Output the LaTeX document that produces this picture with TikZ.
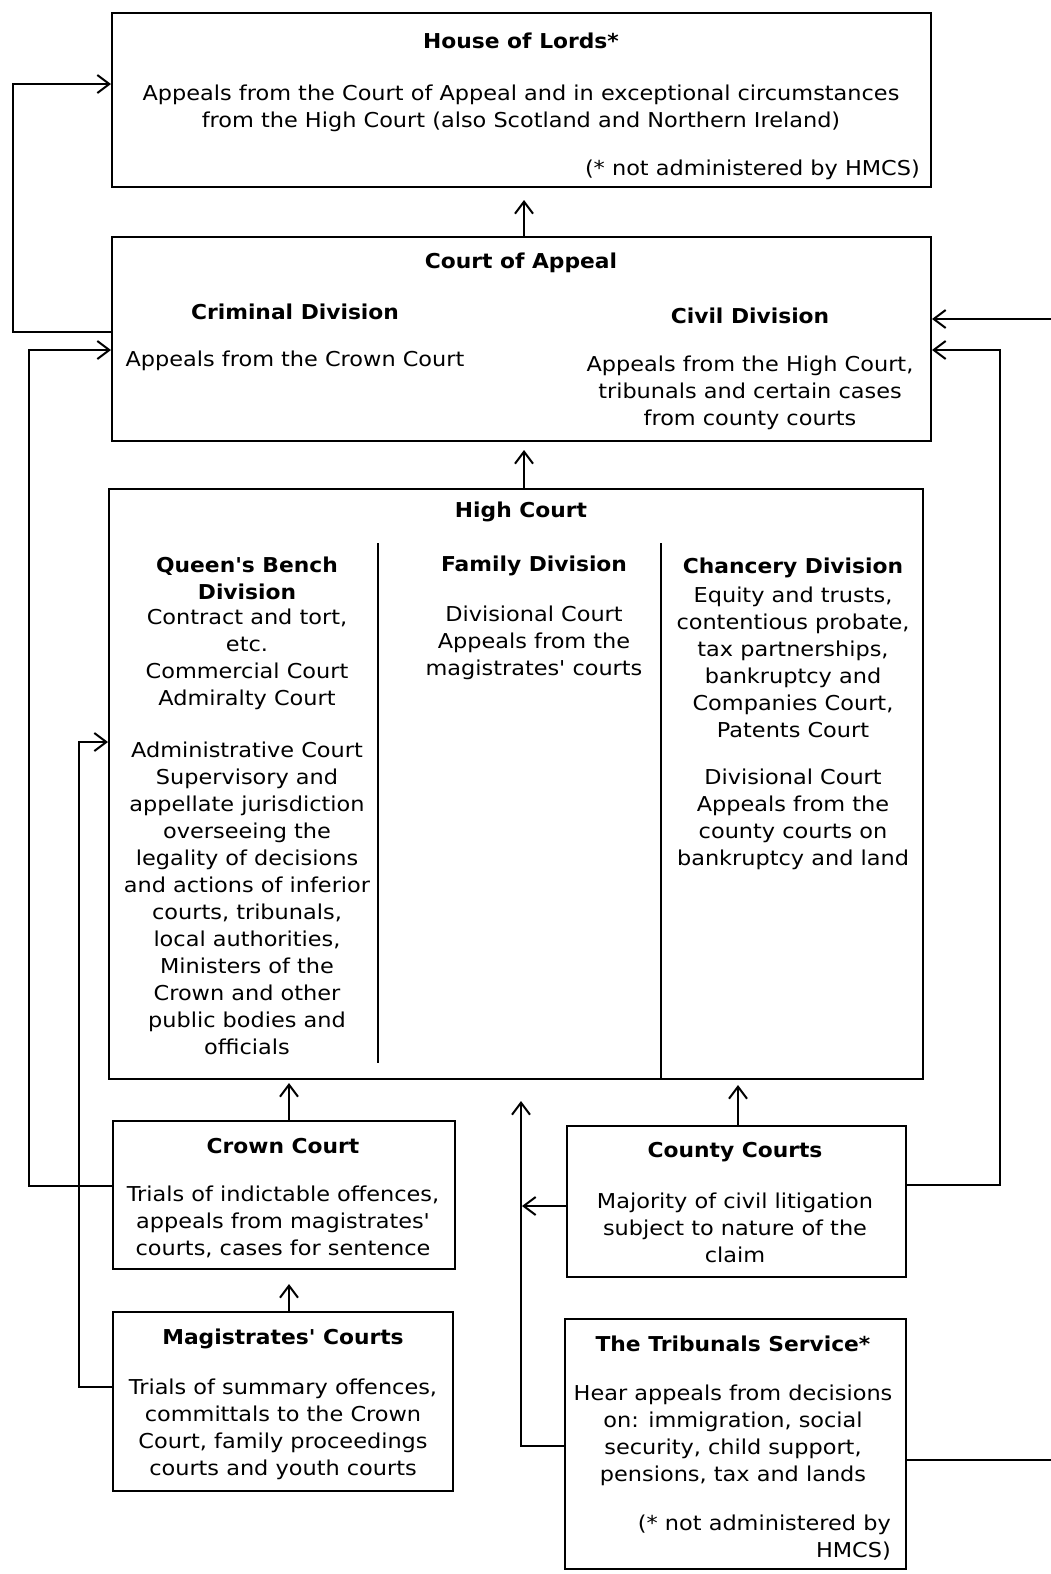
\documentclass[tikz,border=0pt]{standalone}
\usepackage{fontspec}
\setmainfont{DejaVu Sans}[Ligatures=TeXOff, FakeStretch=1.093, BoldFeatures={FakeStretch=1.063}]
\usetikzlibrary{arrows.meta}
\begin{document}
\begin{tikzpicture}[x=1pt,y=-1pt,
  box/.style={draw, line width=2pt, anchor=north west, inner sep=0pt},
  txt/.style={align=center, inner sep=0pt, yshift=-3pt, font=\fontsize{20.5}{27}\selectfont},
  hd/.style={align=center, inner sep=0pt, yshift=-3pt, font=\fontsize{20.5}{27}\selectfont\bfseries},
  note/.style={align=right, anchor=east, inner sep=0pt, yshift=-3pt, font=\fontsize{20.5}{27}\selectfont},
  conn/.style={line width=2pt},
  arr/.style={line width=2pt, -{Straight Barb[length=12pt,width=18pt]}}
]
\useasboundingbox (0,0) rectangle (1051,1574);

% boxes
\node[box, minimum width=819pt, minimum height=174pt] (hol) at (111,12) {};
\node[box, minimum width=819pt, minimum height=204pt] (coa) at (111,236) {};
\node[box, minimum width=814pt, minimum height=590pt] (hc) at (108,488) {};
\node[box, minimum width=342pt, minimum height=148pt] (crown) at (112,1120) {};
\node[box, minimum width=339pt, minimum height=151pt] (county) at (566,1125) {};
\node[box, minimum width=340pt, minimum height=179pt] (mag) at (112,1311) {};
\node[box, minimum width=341pt, minimum height=250pt] (trib) at (564,1318) {};

% dividers in High Court
\coordinate (d1t) at (378,543);
\coordinate (d2t) at (661,543);
\draw[conn] (d1t) -- (378,1063);
\draw[conn] (d2t) -- (d2t |- hc.south);

% House of Lords text
\node[hd] (holt) at (521,38) {House of Lords*};
\node[txt] (holb) at (521,105) {Appeals from the Court of Appeal and in exceptional circumstances\\from the High Court (also Scotland and Northern Ireland)};
\node[note] (holn) at (920,167) {(* not administered by HMCS)};

% Court of Appeal text
\node[hd] (coat) at (521,260) {Court of Appeal};
\node[hd] (crimt) at (295,309) {Criminal Division};
\node[hd] (civt) at (750,313) {Civil Division};
\node[txt] (crimb) at (295,358) {Appeals from the Crown Court};
\node[txt] (civb) at (750,390) {Appeals from the High Court,\\tribunals and certain cases\\from county courts};

% High Court text
\node[hd] (hct) at (521,509) {High Court};
\node[hd] (qbt) at (247,575) {Queen's Bench\\Division};
\node[txt] (qb1) at (247,656.5) {Contract and tort,\\etc.\\Commercial Court\\Admiralty Court};
\node[txt] (qb2) at (247,895.5) {Administrative Court\\Supervisory and\\appellate jurisdiction\\overseeing the\\legality of decisions\\and actions of inferior\\courts, tribunals,\\local authorities,\\Ministers of the\\Crown and other\\public bodies and\\officials};
\node[hd] (famt) at (534,563) {Family Division};
\node[txt] (famb) at (534,640) {Divisional Court\\Appeals from the\\magistrates' courts};
\node[hd] (chat) at (793,565) {Chancery Division};
\node[txt] (cha1) at (793,659) {Equity and trusts,\\contentious probate,\\tax partnerships,\\bankruptcy and\\Companies Court,\\Patents Court};
\node[txt] (cha2) at (793,816.5) {Divisional Court\\Appeals from the\\county courts on\\bankruptcy and land};

% Crown Court
\node[hd] (crt) at (283,1143) {Crown Court};
\node[txt] (crb) at (283,1219) {Trials of indictable offences,\\appeals from magistrates'\\courts, cases for sentence};

% County Courts
\node[hd] (cot) at (735,1149) {County Courts};
\node[txt] (cob) at (735,1224.5) {Majority of civil litigation\\subject to nature of the\\claim};

% Magistrates
\node[hd] (mgt) at (283,1336) {Magistrates' Courts};
\node[txt] (mgb) at (283,1426) {Trials of summary offences,\\committals to the Crown\\Court, family proceedings\\courts and youth courts};

% Tribunals
\node[hd] (trt) at (733,1341) {The Tribunals Service*};
\node[txt] (trb) at (733,1432) {Hear appeals from decisions\\on: immigration, social\\security, child support,\\pensions, tax and lands};
\node[note] (trn) at (891,1534.5) {(* not administered by\\HMCS)};

% connectors
\coordinate (xHL) at (524,0);
\draw[arr, shorten >=12pt] (xHL |- coa.north) -- (xHL |- hol.south);
\draw[arr, shorten >=8pt] (xHL |- hc.north) -- (xHL |- coa.south);

\coordinate (xCr) at (289,0);
\draw[arr, shorten >=3pt] (xCr |- crown.north) -- (xCr |- hc.south);
\draw[arr, shorten >=14pt] (xCr |- mag.north) -- (xCr |- crown.south);

\coordinate (xCo) at (738,0);
\draw[arr, shorten >=5pt] (xCo |- county.north) -- (xCo |- hc.south);

% left loops
\coordinate (yA) at (0,332);
\coordinate (yB) at (0,84);
\draw[arr] (coa.west |- yA) -- (13,332) -- (13,84) -- (hol.west |- yB);

\coordinate (yC1) at (0,1186);
\coordinate (yC2) at (0,350);
\draw[arr] (crown.west |- yC1) -- (29,1186) -- (29,350) -- (coa.west |- yC2);

\coordinate (yM1) at (0,1387);
\coordinate (yM2) at (0,742);
\draw[arr] (mag.west |- yM1) -- (79,1387) -- (79,742) -- (hc.west |- yM2);

% tribunals / county to high court
\coordinate (xT) at (521,0);
\coordinate (yT) at (0,1446);
\draw[arr, shorten >=21pt] (trib.west |- yT) -| (xT |- hc.south);
\coordinate (yCL) at (0,1206);
\draw[arr, shorten >=1pt] (county.west |- yCL) -- (xT |- yCL);

% right loops
\coordinate (yR1) at (0,1185);
\coordinate (yR2) at (0,350);
\draw[arr] (county.east |- yR1) -- (1000,1185) -- (1000,350) -- (coa.east |- yR2);

\coordinate (yS1) at (0,1460);
\coordinate (yS2) at (0,319);
\draw[arr] (trib.east |- yS1) -- (1070,1460) -- (1070,319) -- (coa.east |- yS2);
\end{tikzpicture}
\end{document}
